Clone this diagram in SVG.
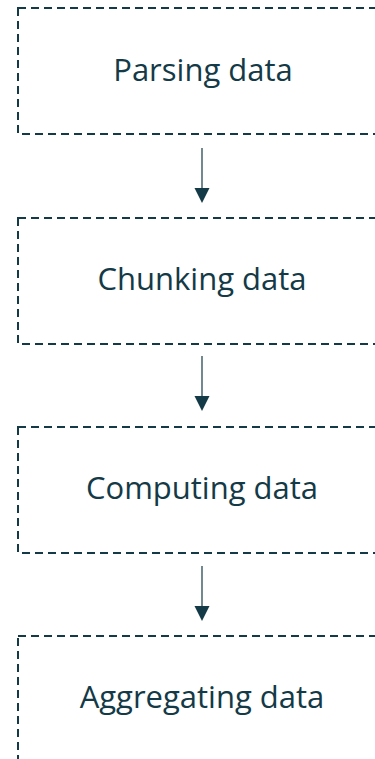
<svg xmlns="http://www.w3.org/2000/svg" width="375" height="759" viewBox="0 0 375 759">
  <style>
    .box { fill: #ffffff; stroke: #133a46; stroke-width: 2; stroke-dasharray: 8 5; }
    .label { font-family: "Open Sans", "Liberation Sans", sans-serif; font-size: 31px; fill: #133a46; text-anchor: middle; }
    .link { stroke: #133a46; stroke-width: 1.2; fill: none; }
    .head { fill: #133a46; }
  </style>
  <rect width="375" height="759" fill="#ffffff"/>

  <!-- pipeline stages, each box runs off the right edge -->
  <g id="parsing">
    <rect class="box" x="18" y="8" width="372" height="126"/>
    <text class="label" x="203" y="81">Parsing data</text>
  </g>
  <g id="chunking">
    <rect class="box" x="18" y="218" width="372" height="126"/>
    <text class="label" x="202" y="290">Chunking data</text>
  </g>
  <g id="computing">
    <rect class="box" x="18" y="427" width="372" height="126"/>
    <text class="label" x="202" y="499">Computing data</text>
  </g>
  <g id="aggregating">
    <rect class="box" x="18" y="636" width="372" height="140"/>
    <text class="label" x="202" y="708">Aggregating data</text>
  </g>

  <!-- downward arrows between stages -->
  <g id="connectors">
    <g>
      <line class="link" x1="202" y1="148" x2="202" y2="190"/>
      <path class="head" d="M194.5,188 L209.5,188 L202,203 Z"/>
    </g>
    <g>
      <line class="link" x1="202" y1="356" x2="202" y2="398"/>
      <path class="head" d="M194.5,396 L209.5,396 L202,411 Z"/>
    </g>
    <g>
      <line class="link" x1="202" y1="566" x2="202" y2="608"/>
      <path class="head" d="M194.5,606 L209.5,606 L202,621 Z"/>
    </g>
  </g>
</svg>
